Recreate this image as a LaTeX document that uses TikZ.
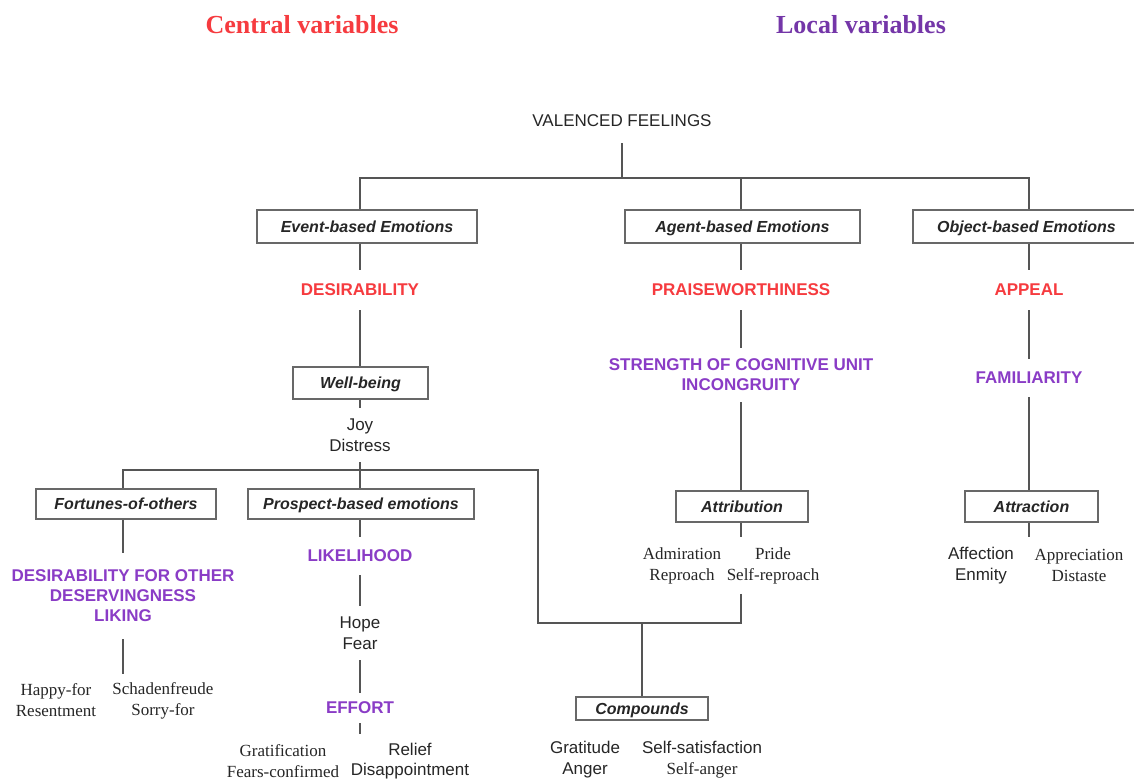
\documentclass[tikz,border=0pt]{standalone}
\usepackage{fontspec}
\setmainfont{Liberation Serif}
\newfontfamily\arial{Liberation Sans}
\definecolor{ink}{HTML}{262626}
\definecolor{linec}{HTML}{555555}
\definecolor{boxline}{HTML}{686868}
\definecolor{redv}{HTML}{F63B3F}
\definecolor{purv}{HTML}{8A3CC6}
\definecolor{purt}{HTML}{7436A8}

\begin{document}
\begin{tikzpicture}[x=1pt,y=-1pt,
  every node/.style={inner sep=0pt, text=ink},
  box/.style={draw=boxline, line width=1.2pt, fill=white,
    text height=13pt, text depth=1.8pt,
    font=\arial\bfseries\itshape\fontsize{16}{19}\selectfont},
  var/.style={font=\arial\bfseries\fontsize{17}{20}\selectfont, align=center},
  cvar/.style={var, text=redv},
  lvar/.style={var, text=purv},
  plain/.style={font=\arial\fontsize{17}{20.5}\selectfont, align=center},
  sanslist/.style={font=\arial\fontsize{17}{20.5}\selectfont, align=center, inner ysep=10pt},
  seriflist/.style={font=\fontsize{17}{21}\selectfont, align=center, inner ysep=10pt},
  link/.style={draw=linec, line width=1.4pt},
  heading/.style={font=\bfseries\fontsize{26}{30}\selectfont}]

\fill[white] (0,0) rectangle (1134,780);
\useasboundingbox (0,0) rectangle (1134,780);

% column headings
\node[heading, text=redv] (hc) at (302,25) {Central variables};
\node[heading, text=purt] (hl) at (861,25) {Local variables};

% root
\node[plain, minimum height=44pt] (vf) at (622,121) {VALENCED FEELINGS};
\coordinate (j0) at (622,178);

% first level boxes
\node[box, minimum width=220pt, minimum height=33pt] (ev) at (367,226.5) {Event-based Emotions};
\node[box, minimum width=235pt, minimum height=33pt] (ag) at (742.5,226.5) {Agent-based Emotions};
\node[box, minimum width=227pt, minimum height=33pt] (ob) at (1026.5,226.5) {Object-based Emotions};

% central variables of the three branches
\node[cvar, minimum height=40pt] (des) at (360,290) {DESIRABILITY};
\node[cvar, minimum height=40pt] (pra) at (741,290) {PRAISEWORTHINESS};
\node[cvar, minimum height=40pt] (app) at (1029,290) {APPEAL};

% local variables
\node[lvar, minimum height=54pt] (scu) at (741,375) {STRENGTH OF COGNITIVE UNIT\\INCONGRUITY};
\node[lvar, minimum height=38pt] (fam) at (1029,378) {FAMILIARITY};

% event branch
\node[box, minimum width=135pt, minimum height=32pt] (wb) at (360.5,383) {Well-being};
\node[plain, minimum height=54pt] (joy) at (360,435) {Joy\\Distress};

\node[box, minimum width=180pt, minimum height=30pt] (fo) at (126,504) {Fortunes-of-others};
\node[box, minimum width=226pt, minimum height=30pt] (pr) at (361,504) {Prospect-based emotions};

\node[lvar, minimum height=86pt] (dfo) at (123,596) {DESIRABILITY FOR OTHER\\DESERVINGNESS\\LIKING};
\node[seriflist] (hfl) at (56,700.5) {Happy-for\\Resentment};
\node[seriflist] (sch) at (163,700.5) {Schadenfreude\\Sorry-for};

\node[lvar, minimum height=38pt] (lik) at (360,556) {LIKELIHOOD};
\node[plain, minimum height=54pt] (hf) at (360,633) {Hope\\Fear};
\node[lvar, minimum height=30pt] (eff) at (360,708) {EFFORT};
\node[seriflist] (gra) at (283,761) {Gratification\\Fears-confirmed};
\node[sanslist] (rel) at (410,761) {Relief\\Disappointment};

% agent branch
\node[box, minimum width=132pt, minimum height=31pt] (at) at (742,506.5) {Attribution};
\node[seriflist] (adm) at (682,565.5) {Admiration\\Reproach};
\node[seriflist] (pri) at (773,565.5) {Pride\\Self-reproach};

% object branch
\node[box, minimum width=133pt, minimum height=31pt] (ac) at (1031.5,506.5) {Attraction};
\node[sanslist] (af) at (981,565.5) {Affection\\Enmity};
\node[seriflist] (ap) at (1079,565.5) {Appreciation\\Distaste};

% compounds
\node[box, minimum width=132pt, minimum height=23pt] (co) at (642,708.5) {Compounds};
\node[sanslist] (gr) at (585,759.5) {Gratitude\\Anger};
\node[sanslist] (ss) at (702,759.5) {Self-satisfaction\\{\rmfamily Self-anger}};

% connectors: top fork
\draw[link] (vf.south) -- (j0);
\draw[link] (ev.north -| des) |- (j0) -| (ob.north -| app);
\draw[link] (ag.north -| pra) -- (pra |- j0);

% event branch
\draw[link] (ev.south -| des) -- (des.north);
\draw[link] (des.south) -- (wb.north -| des);
\draw[link] (wb.south -| des) -- (joy.north);
\draw[link] (joy.south) -- (pr.north -| joy);
\coordinate (k1) at (538,470);
\coordinate (k2) at (538,623);
\draw[link] (scu |- pri.south) |- (k2) -- (k1) -| (fo.north -| dfo);
\draw[link] (co.north) -- (co.north |- k2);

\draw[link] (fo.south -| dfo) -- (dfo.north);
\draw[link] (dfo.south) -- (dfo.south |- hfl.north);

\draw[link] (pr.south -| lik) -- (lik.north);
\draw[link] (lik.south) -- (hf.north);
\draw[link] (hf.south) -- (eff.north);
\draw[link] (eff.south) -- (eff.south |- gra.north);

% agent branch
\draw[link] (ag.south -| pra) -- (pra.north);
\draw[link] (pra.south) -- (scu.north);
\draw[link] (scu.south) -- (at.north -| scu);
\draw[link] (at.south -| scu) -- (scu |- adm.north);

% object branch
\draw[link] (ob.south -| app) -- (app.north);
\draw[link] (app.south) -- (fam.north);
\draw[link] (fam.south) -- (ac.north -| fam);
\draw[link] (ac.south -| fam) -- (fam |- af.north);

\end{tikzpicture}
\end{document}
